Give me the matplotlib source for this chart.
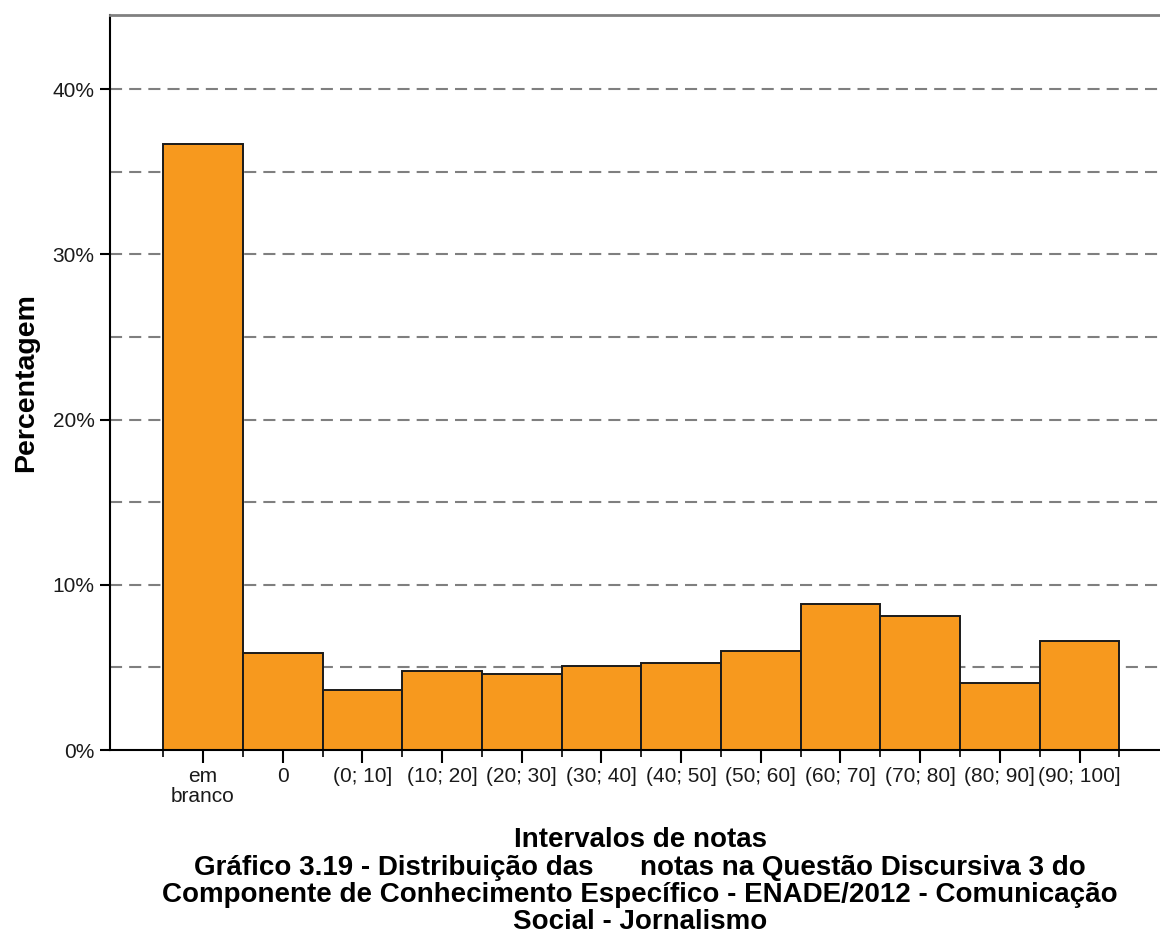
import matplotlib
matplotlib.use("Agg")
from matplotlib import pyplot as plt
import numpy as np

plt.rcParams['font.family'] = ['Liberation Sans', 'DejaVu Sans']

categories = ['em\nbranco', '0', '(0; 10]', '(10; 20]', '(20; 30]', '(30; 40]',
              '(40; 50]', '(50; 60]', '(60; 70]', '(70; 80]', '(80; 90]', '(90; 100]']
percent = [36.7, 5.87, 3.63, 4.78, 4.62, 5.08, 5.28, 6.01, 8.84, 8.11, 4.07, 6.62]
yticks = [0, 10, 20, 30, 40]
ytick_labels = ['0%', '10%', '20%', '30%', '40%']
grid_levels = [5, 10, 15, 20, 25, 30, 35, 40]

xlabel = 'Intervalos de notas'
caption = ('Gráfico 3.19 - Distribuição das      notas na Questão Discursiva 3 do\n'
           'Componente de Conhecimento Específico - ENADE/2012 - Comunicação\n'
           'Social - Jornalismo')

fig = plt.figure(figsize=(11.6, 9.35), dpi=100)
ax = fig.add_axes([110/1160, 1 - 750/935, 1 - 110/1160, (750 - 15)/935])

x = np.arange(len(categories))
for g in grid_levels:
    ax.axhline(g, color='#7f7f7f', lw=1.5, linestyle=(0, (5.8, 3.4)), zorder=1)
ax.bar(x, percent, width=1.0, color='#F7991E', edgecolor='#1a1a1a', linewidth=1.4, zorder=2)

ax.set_xlim(-1.167, 12.01)
ax.set_ylim(0, 44.48)

ax.set_yticks(yticks)
ax.set_yticklabels(ytick_labels)
ax.set_xticks(x)
ax.set_xticklabels(categories, linespacing=1.05)
ax.set_xticks(np.arange(len(categories) + 1) - 0.5, minor=True)

ax.tick_params(axis='y', length=7, width=1.5, pad=4, labelsize=15, labelcolor='#1a1a1a')
ax.tick_params(axis='x', which='major', length=9.5, width=1.5, pad=3, labelsize=15, labelcolor='#1a1a1a')
ax.tick_params(axis='x', which='minor', length=5, width=1.2)

ax.spines['right'].set_visible(False)
ax.spines['top'].set_color('#808080')
ax.spines['top'].set_linewidth(2)
ax.spines['left'].set_linewidth(1.5)
ax.spines['bottom'].set_linewidth(1.5)

ax.set_ylabel('Percentagem', fontsize=20.5, fontweight='bold', labelpad=10)
fig.text(640/1160, 1 - 840/935, xlabel, ha='center', va='center', fontsize=20, fontweight='bold')
fig.text(640/1160, 1 - 895/935, caption, ha='center', va='center', fontsize=20,
         fontweight='bold', linespacing=1.06)

fig.savefig('out.png', dpi=100)
